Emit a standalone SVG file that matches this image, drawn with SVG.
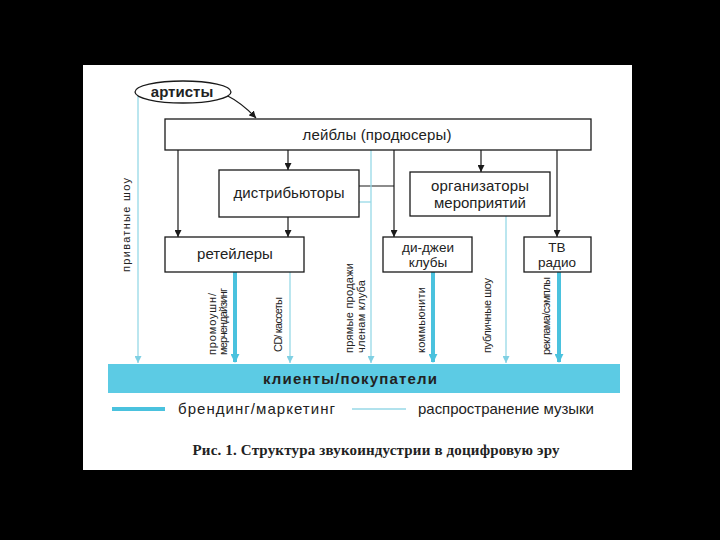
<svg xmlns="http://www.w3.org/2000/svg" width="720" height="540" viewBox="0 0 720 540">
<defs>
<style>
.box{fill:#fff;stroke:#1a1a1a;stroke-width:1.3}
.t{font-family:"Liberation Sans",Arial,sans-serif;font-size:15px;fill:#222;text-anchor:middle}
.s{font-size:13.5px}
.b{font-weight:bold}
.r{font-family:"Liberation Sans",Arial,sans-serif;font-size:11px;fill:#222}
.blk{stroke:#1a1a1a;stroke-width:1.2;fill:none}
.thin{stroke:#97d9e7;stroke-width:1.3;fill:none}
.thick{stroke:#4ac2de;stroke-width:4;fill:none}
</style>
<marker id="ab" viewBox="0 0 10 10" refX="10" refY="5" markerWidth="7" markerHeight="7" markerUnits="userSpaceOnUse" orient="auto"><path d="M0,0 L10,5 L0,10 Z" fill="#1a1a1a"/></marker>
<marker id="ac" viewBox="0 0 10 10" refX="10" refY="5" markerWidth="7" markerHeight="7" markerUnits="userSpaceOnUse" orient="auto"><path d="M0,0 L10,5 L0,10 Z" fill="#7fd0e3"/></marker>
<marker id="at" viewBox="0 0 10 10" refX="9" refY="5" markerWidth="9" markerHeight="9" markerUnits="userSpaceOnUse" orient="auto"><path d="M0,0 L10,5 L0,10 Z" fill="#4ac2de"/></marker>
</defs>
<rect x="0" y="0" width="720" height="540" fill="#000"/>
<rect x="83" y="65" width="549" height="405" fill="#fff"/>

<g id="connectors">
<path class="blk" d="M226,95 Q242,103 256,118" marker-end="url(#ab)"/>
<line class="blk" x1="178" y1="150" x2="178" y2="237" marker-end="url(#ab)"/>
<line class="blk" x1="288" y1="150" x2="288" y2="170" marker-end="url(#ab)"/>
<line class="blk" x1="288" y1="217" x2="288" y2="237" marker-end="url(#ab)"/>
<line class="blk" x1="394" y1="150" x2="394" y2="237" marker-end="url(#ab)"/>
<line class="blk" x1="359" y1="186" x2="394" y2="186"/>
<line class="blk" x1="481" y1="150" x2="481" y2="172" marker-end="url(#ab)"/>
<line class="blk" x1="557" y1="150" x2="557" y2="237" marker-end="url(#ab)"/>

<line class="thin" x1="138" y1="96" x2="138" y2="363" marker-end="url(#ac)"/>
<line class="thin" x1="290" y1="272" x2="290" y2="363" marker-end="url(#ac)"/>
<line class="thin" x1="371" y1="150" x2="371" y2="363" marker-end="url(#ac)"/>
<line class="thin" x1="359" y1="202" x2="371" y2="202" stroke="#b5c9cc"/>
<line class="thin" x1="506" y1="216" x2="506" y2="363" marker-end="url(#ac)"/>
<line class="thick" x1="235" y1="272" x2="235" y2="362" marker-end="url(#at)"/>
<line class="thick" x1="433" y1="272" x2="433" y2="362" marker-end="url(#at)"/>
<line class="thick" x1="559" y1="272" x2="559" y2="362" marker-end="url(#at)"/>
</g>

<g id="artists">
<ellipse cx="183" cy="92" rx="48" ry="11" fill="#fff" stroke="#1a1a1a" stroke-width="1.3"/>
<text class="t b" x="182" y="97" font-size="14.5">артисты</text>
</g>
<g id="labels">
<rect class="box" x="165" y="119" width="426" height="31"/>
<text class="t" x="377" y="140" textLength="149">лейблы (продюсеры)</text>
</g>
<g id="distributors">
<rect class="box" x="219" y="170" width="140" height="47"/>
<text class="t" x="289" y="198" textLength="111">дистрибьюторы</text>
</g>
<g id="organizers">
<rect class="box" x="410" y="172" width="140" height="44"/>
<text class="t" x="480" y="191" font-size="14.5" textLength="98">организаторы</text>
<text class="t" x="480" y="208" font-size="14.5">мероприятий</text>
</g>
<g id="retailers">
<rect class="box" x="165" y="237" width="139" height="35"/>
<text class="t" x="235" y="259">ретейлеры</text>
</g>
<g id="dj">
<rect class="box" x="383" y="237" width="89" height="35"/>
<text class="t s" x="428" y="252">ди-джеи</text>
<text class="t s" x="428" y="267">клубы</text>
</g>
<g id="tv">
<rect class="box" x="524" y="237" width="67" height="35"/>
<text class="t s" x="557" y="252">ТВ</text>
<text class="t s" x="557" y="267">радио</text>
</g>

<g id="edge-labels">
<text class="r" font-size="13" transform="translate(130,272) rotate(-90)" textLength="94">приватные шоу</text>
<text class="r" font-size="10" transform="translate(216,355) rotate(-90)" textLength="62">промоушн/</text>
<text class="r" font-size="10" transform="translate(227,355) rotate(-90)" textLength="67">мерчендайзинг</text>
<text class="r" transform="translate(282,352) rotate(-90)" textLength="55">CD/ кассеты</text>
<text class="r" transform="translate(353,353) rotate(-90)" textLength="90">прямые продажи</text>
<text class="r" transform="translate(365,353) rotate(-90)" textLength="73">членам клуба</text>
<text class="r" transform="translate(425,353) rotate(-90)" textLength="66">коммьюнити</text>
<text class="r" transform="translate(491,353) rotate(-90)" textLength="75">публичные шоу</text>
<text class="r" transform="translate(550,355) rotate(-90)" textLength="78">реклама/сэмплы</text>
</g>

<g id="clients">
<rect x="108" y="364" width="512" height="29" fill="#5ccbe4"/>
<text class="t b" x="350" y="384" font-size="16" textLength="174">клиенты/покупатели</text>
</g>

<g id="legend">
<line x1="112" y1="409" x2="165" y2="409" stroke="#4ac2de" stroke-width="4"/>
<text class="t" x="178" y="414" style="text-anchor:start" textLength="157">брендинг/маркетинг</text>
<line x1="352" y1="409" x2="406" y2="409" stroke="#97d9e7" stroke-width="1.3"/>
<text class="t" x="418" y="414" style="text-anchor:start" textLength="176">распространение музыки</text>
</g>

<text x="376" y="455" font-family="'Liberation Serif','Times New Roman',serif" font-size="15" font-weight="bold" fill="#222" text-anchor="middle" textLength="367">Рис. 1. Структура звукоиндустрии в доцифровую эру</text>
</svg>
